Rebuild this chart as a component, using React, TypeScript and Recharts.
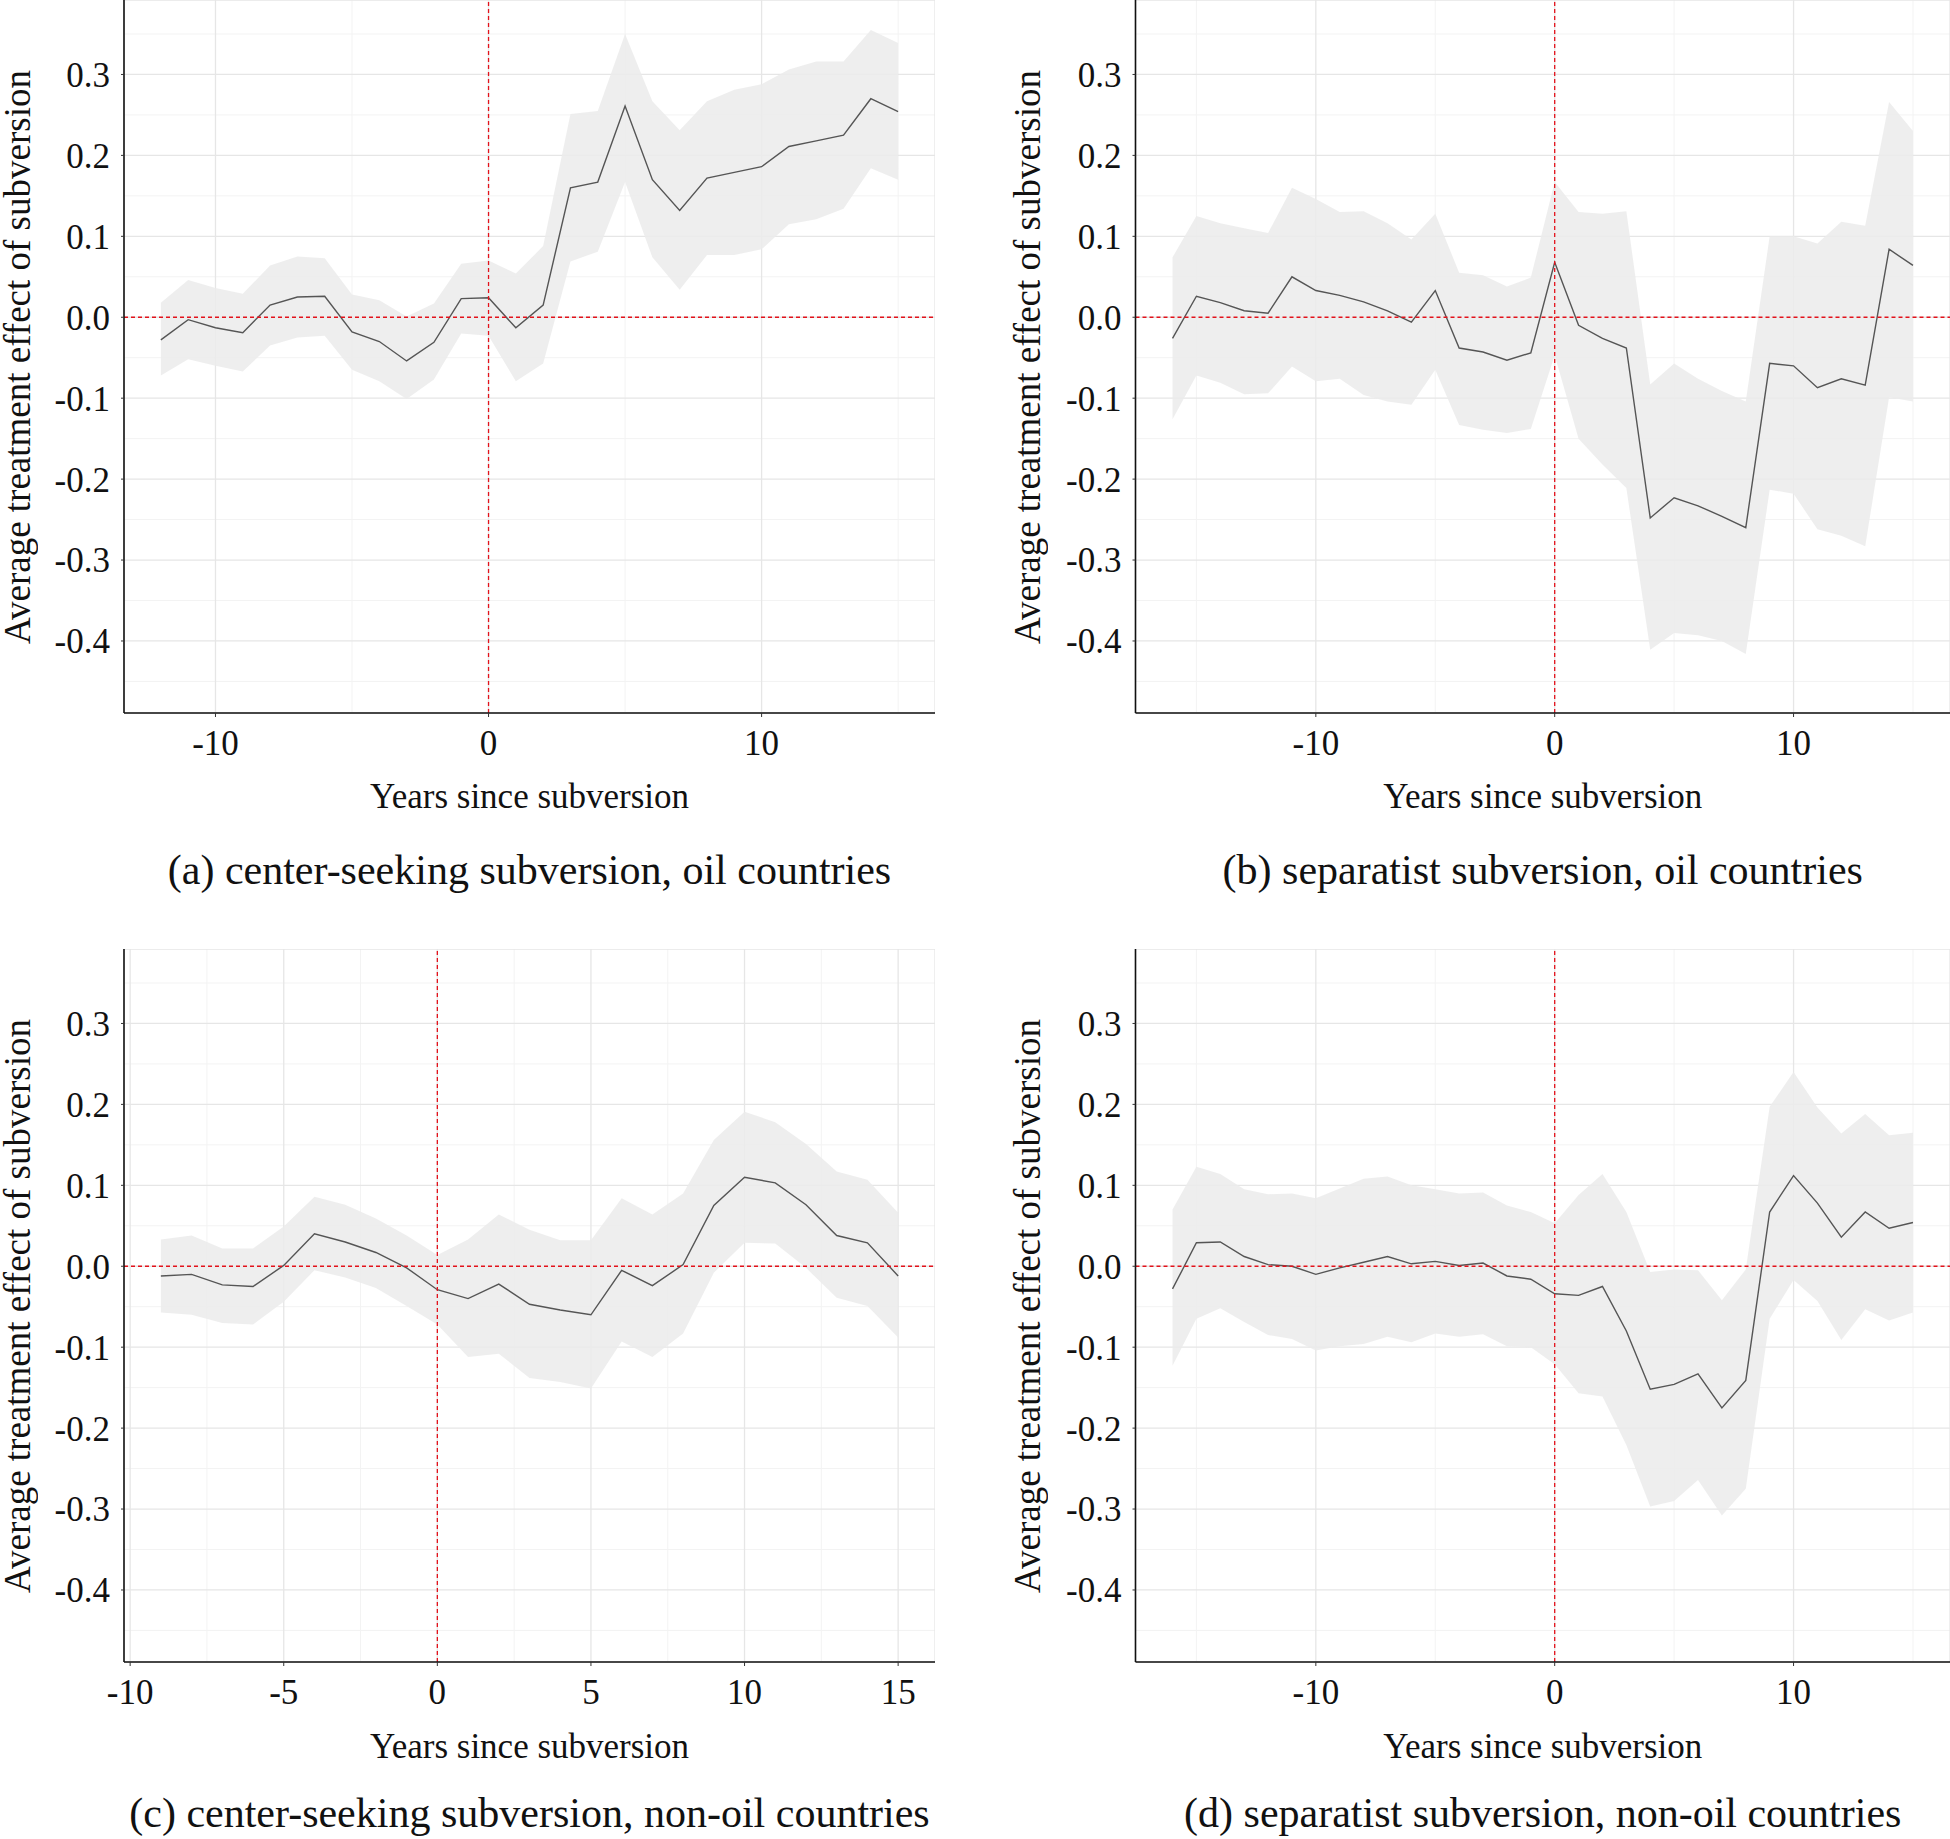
import React from 'react';
import { ComposedChart, Area, Line, XAxis, YAxis, CartesianGrid, ReferenceLine } from 'recharts';

// (a) center-seeking subversion, oil countries
const yearsA = [-12, -11, -10, -9, -8, -7, -6, -5, -4, -3, -2, -1, 0, 1, 2, 3, 4, 5, 6, 7, 8, 9, 10, 11, 12, 13, 14, 15];
const estA = [-0.028, -0.003, -0.013, -0.019, 0.015, 0.025, 0.026, -0.018, -0.03, -0.054, -0.031, 0.023, 0.024, -0.013, 0.015, 0.16, 0.167, 0.261, 0.17, 0.132, 0.172, 0.179, 0.186, 0.211, 0.218, 0.225, 0.27, 0.254];
const lowA = [-0.072, -0.052, -0.06, -0.067, -0.035, -0.025, -0.023, -0.065, -0.079, -0.101, -0.077, -0.02, -0.023, -0.079, -0.057, 0.069, 0.081, 0.167, 0.074, 0.034, 0.077, 0.077, 0.084, 0.115, 0.121, 0.134, 0.184, 0.17];
const highA = [0.018, 0.046, 0.036, 0.029, 0.064, 0.075, 0.073, 0.028, 0.021, 0.001, 0.017, 0.066, 0.07, 0.054, 0.088, 0.251, 0.255, 0.35, 0.267, 0.231, 0.267, 0.281, 0.288, 0.306, 0.316, 0.316, 0.355, 0.339];

// (b) separatist subversion, oil countries
const yearsB = [-16, -15, -14, -13, -12, -11, -10, -9, -8, -7, -6, -5, -4, -3, -2, -1, 0, 1, 2, 3, 4, 5, 6, 7, 8, 9, 10, 11, 12, 13, 14, 15];
const estB = [-0.026, 0.026, 0.018, 0.008, 0.005, 0.05, 0.033, 0.027, 0.019, 0.008, -0.006, 0.033, -0.038, -0.043, -0.053, -0.044, 0.068, -0.01, -0.026, -0.038, -0.248, -0.223, -0.233, -0.246, -0.26, -0.057, -0.06, -0.087, -0.076, -0.084, 0.084, 0.064];
const lowB = [-0.126, -0.072, -0.081, -0.095, -0.094, -0.061, -0.079, -0.076, -0.096, -0.104, -0.108, -0.065, -0.133, -0.139, -0.143, -0.138, -0.047, -0.15, -0.182, -0.211, -0.411, -0.39, -0.393, -0.4, -0.416, -0.213, -0.218, -0.262, -0.27, -0.283, -0.099, -0.104];
const highB = [0.074, 0.125, 0.116, 0.11, 0.104, 0.16, 0.146, 0.13, 0.131, 0.116, 0.096, 0.128, 0.055, 0.052, 0.038, 0.049, 0.167, 0.13, 0.128, 0.131, -0.083, -0.057, -0.076, -0.091, -0.104, 0.1, 0.1, 0.091, 0.118, 0.113, 0.266, 0.23];

// (c) center-seeking subversion, non-oil countries
const yearsC = [-9, -8, -7, -6, -5, -4, -3, -2, -1, 0, 1, 2, 3, 4, 5, 6, 7, 8, 9, 10, 11, 12, 13, 14, 15];
const estC = [-0.012, -0.01, -0.023, -0.025, 0.001, 0.04, 0.03, 0.017, -0.002, -0.029, -0.04, -0.022, -0.047, -0.054, -0.06, -0.005, -0.024, 0.002, 0.075, 0.11, 0.103, 0.076, 0.038, 0.029, -0.012];
const lowC = [-0.057, -0.06, -0.07, -0.072, -0.044, -0.005, -0.014, -0.027, -0.049, -0.072, -0.112, -0.108, -0.138, -0.143, -0.151, -0.093, -0.112, -0.083, -0.008, 0.029, 0.028, -0.002, -0.039, -0.049, -0.088];
const highC = [0.033, 0.038, 0.022, 0.022, 0.049, 0.086, 0.076, 0.059, 0.038, 0.014, 0.033, 0.064, 0.045, 0.032, 0.032, 0.084, 0.064, 0.09, 0.156, 0.191, 0.178, 0.151, 0.117, 0.107, 0.066];

// (d) separatist subversion, non-oil countries
const yearsD = [-16, -15, -14, -13, -12, -11, -10, -9, -8, -7, -6, -5, -4, -3, -2, -1, 0, 1, 2, 3, 4, 5, 6, 7, 8, 9, 10, 11, 12, 13, 14, 15];
const estD = [-0.028, 0.029, 0.03, 0.012, 0.002, 0.0, -0.01, -0.002, 0.005, 0.012, 0.003, 0.006, 0.001, 0.004, -0.012, -0.016, -0.034, -0.036, -0.025, -0.08, -0.152, -0.146, -0.133, -0.175, -0.141, 0.067, 0.112, 0.078, 0.036, 0.067, 0.047, 0.054];
const lowD = [-0.123, -0.065, -0.052, -0.069, -0.085, -0.09, -0.104, -0.099, -0.096, -0.087, -0.094, -0.083, -0.087, -0.084, -0.099, -0.1, -0.121, -0.157, -0.161, -0.221, -0.297, -0.29, -0.264, -0.308, -0.275, -0.065, -0.017, -0.043, -0.091, -0.053, -0.067, -0.057];
const highD = [0.07, 0.123, 0.114, 0.095, 0.089, 0.09, 0.084, 0.096, 0.108, 0.111, 0.1, 0.095, 0.09, 0.091, 0.075, 0.067, 0.053, 0.088, 0.114, 0.067, -0.007, -0.004, -0.005, -0.042, -0.004, 0.197, 0.24, 0.196, 0.164, 0.188, 0.162, 0.165];

const yTicks = [-0.4, -0.3, -0.2, -0.1, 0, 0.1, 0.2, 0.3];
const yMinor = [-0.45, -0.35, -0.25, -0.15, -0.05, 0.05, 0.15, 0.25, 0.35];
const xTicksWide = [-10, 0, 10];
const xMinorA = [-5, 5, 15];
const xMinorWide = [-15, -5, 5, 15];
const xTicksC = [-10, -5, 0, 5, 10, 15];
const xMinorC = [-7.5, -2.5, 2.5, 7.5, 12.5];

const xTitle = 'Years since subversion';
const yTitle = 'Average treatment effect of subversion';

const FONT = '"Liberation Serif", "DejaVu Serif", serif';
const PLOT_H = 713;
const AXIS_H = 60;
const YLABEL_LEN = 620;
const YLABEL_LINE = 30;

interface PanelProps {
  left: number;
  top: number;
  plotLeft: number;
  plotRight: number;
  yLabelX: number;
  captionY: number;
  titleY: number;
  years: number[];
  est: number[];
  low: number[];
  high: number[];
  xDomain: [number, number];
  xTicks: number[];
  xMinor: number[];
  caption: string;
}

function Panel(p: PanelProps) {
  const data = p.years.map((x, i) => ({ x, est: p.est[i], band: [p.low[i], p.high[i]] }));
  const width = p.plotRight - p.left;
  const centerX = (p.plotLeft + p.plotRight) / 2;
  const textStyle: React.CSSProperties = {
    position: 'absolute',
    fontFamily: FONT,
    color: '#111',
    whiteSpace: 'nowrap',
    textAlign: 'center',
    width: 900,
  };
  return (
    <>
      <div style={{ position: 'absolute', left: p.left, top: p.top }}>
        <ComposedChart
          width={width}
          height={PLOT_H + AXIS_H}
          data={data}
          margin={{ top: 0, right: 0, bottom: 0, left: 0 }}
          style={{ fontFamily: FONT }}
        >
          <CartesianGrid horizontalValues={yMinor} verticalValues={p.xMinor} stroke="#f3f3f3" strokeWidth={1} />
          <CartesianGrid stroke="#e6e6e6" strokeWidth={1.3} />
          <XAxis
            type="number"
            dataKey="x"
            domain={p.xDomain}
            ticks={p.xTicks}
            allowDataOverflow
            height={AXIS_H}
            tickSize={4}
            tickMargin={13}
            axisLine={{ stroke: '#111', strokeWidth: 1.6 }}
            tickLine={{ stroke: '#333' }}
            tick={{ fill: '#111', fontSize: 35, fontFamily: FONT }}
          />
          <YAxis
            type="number"
            domain={[-0.489, 0.392]}
            ticks={yTicks}
            allowDataOverflow
            width={p.plotLeft - p.left}
            tickSize={3}
            tickMargin={11}
            tickFormatter={(v: number) => v.toFixed(1)}
            axisLine={{ stroke: '#111', strokeWidth: 1.6 }}
            tickLine={{ stroke: '#333' }}
            tick={{ fill: '#111', fontSize: 35, fontFamily: FONT }}
          />
          <Area
            type="linear"
            dataKey="band"
            stroke="none"
            fill="#ebebeb"
            fillOpacity={0.85}
            isAnimationActive={false}
          />
          <Line
            type="linear"
            dataKey="est"
            stroke="#555555"
            strokeWidth={1.4}
            dot={false}
            activeDot={false}
            isAnimationActive={false}
          />
          <ReferenceLine y={0} stroke="#e3121b" strokeWidth={1.3} strokeDasharray="4 3" />
          <ReferenceLine x={0} stroke="#e3121b" strokeWidth={1.3} strokeDasharray="4 3" />
        </ComposedChart>
      </div>
      <div
        style={{
          position: 'absolute',
          fontFamily: FONT,
          color: '#111',
          whiteSpace: 'nowrap',
          textAlign: 'center',
          writingMode: 'vertical-rl',
          transform: 'rotate(180deg)',
          fontSize: 37,
          lineHeight: `${YLABEL_LINE}px`,
          width: YLABEL_LINE,
          height: YLABEL_LEN,
          left: p.yLabelX - YLABEL_LINE / 2,
          top: p.top + PLOT_H / 2 - YLABEL_LEN / 2,
        }}
      >
        {yTitle}
      </div>
      <div style={{ ...textStyle, fontSize: 35, lineHeight: '40px', left: centerX - 450, top: p.titleY - 20 }}>
        {xTitle}
      </div>
      <div style={{ ...textStyle, fontSize: 42, lineHeight: '48px', left: centerX - 450, top: p.captionY - 24 }}>
        {p.caption}
      </div>
    </>
  );
}

export default function App() {
  return (
    <div style={{ position: 'absolute', left: 0, top: 0, width: 1950, height: 1839, background: '#fff', overflow: 'hidden' }}>
      <Panel
        left={0}
        top={0}
        plotLeft={124}
        plotRight={935}
        yLabelX={18}
        titleY={797}
        captionY={870}
        years={yearsA}
        est={estA}
        low={lowA}
        high={highA}
        xDomain={[-13.35, 16.35]}
        xTicks={xTicksWide}
        xMinor={xMinorA}
        caption="(a) center-seeking subversion, oil countries"
      />
      <Panel
        left={975}
        top={0}
        plotLeft={1135.5}
        plotRight={1950}
        yLabelX={1028}
        titleY={797}
        captionY={870}
        years={yearsB}
        est={estB}
        low={lowB}
        high={highB}
        xDomain={[-17.55, 16.55]}
        xTicks={xTicksWide}
        xMinor={xMinorWide}
        caption="(b) separatist subversion, oil countries"
      />
      <Panel
        left={0}
        top={949}
        plotLeft={124}
        plotRight={935}
        yLabelX={18}
        titleY={1747}
        captionY={1813}
        years={yearsC}
        est={estC}
        low={lowC}
        high={highC}
        xDomain={[-10.2, 16.2]}
        xTicks={xTicksC}
        xMinor={xMinorC}
        caption="(c) center-seeking subversion, non-oil countries"
      />
      <Panel
        left={975}
        top={949}
        plotLeft={1135.5}
        plotRight={1950}
        yLabelX={1028}
        titleY={1747}
        captionY={1813}
        years={yearsD}
        est={estD}
        low={lowD}
        high={highD}
        xDomain={[-17.55, 16.55]}
        xTicks={xTicksWide}
        xMinor={xMinorWide}
        caption="(d) separatist subversion, non-oil countries"
      />
    </div>
  );
}
